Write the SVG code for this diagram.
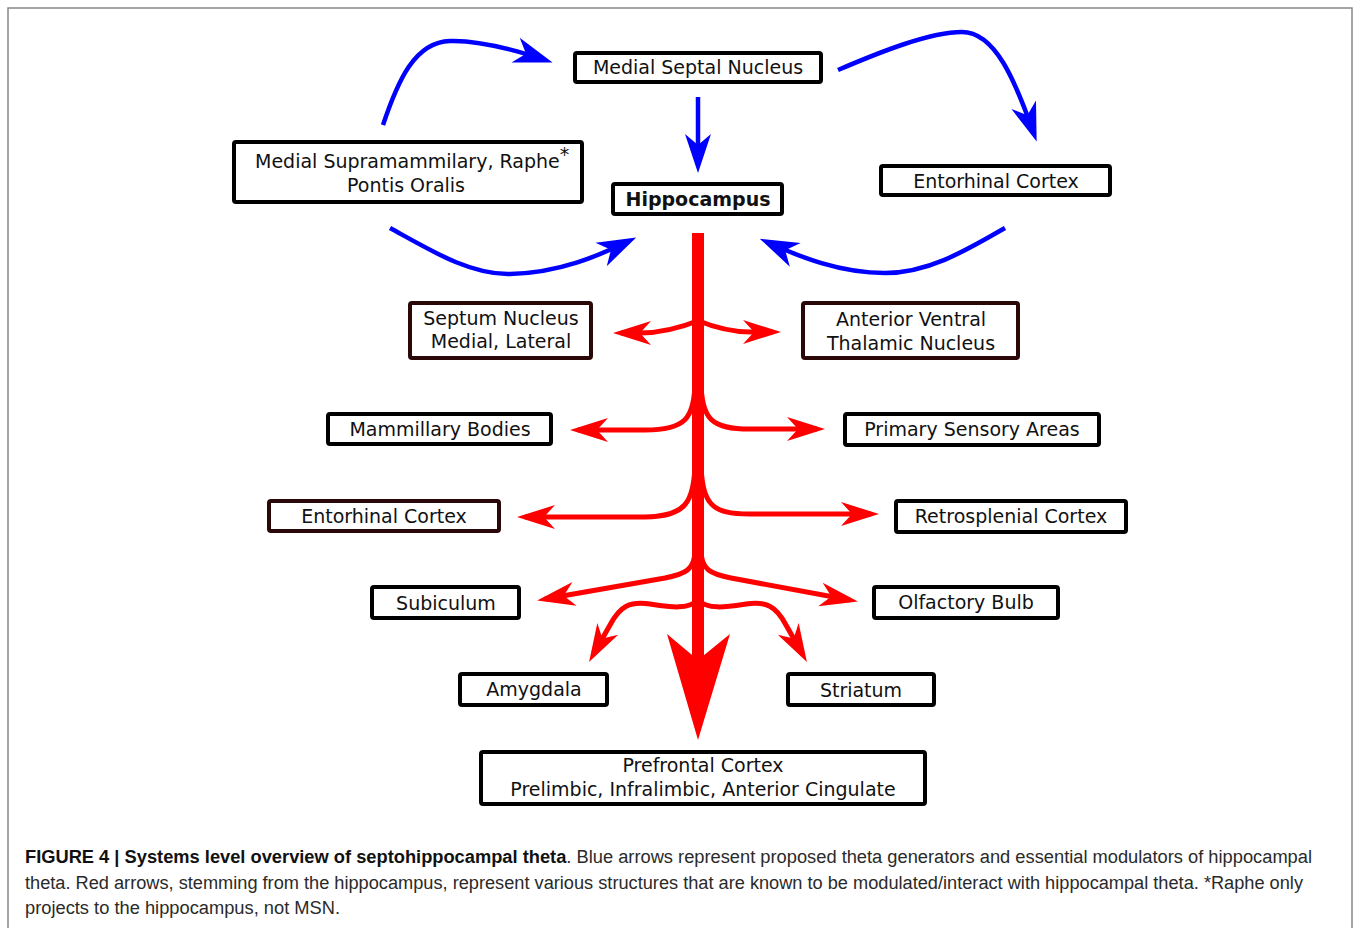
<svg xmlns="http://www.w3.org/2000/svg" width="1354" height="928" viewBox="0 0 1354 928">
<style>
.box{fill:#fff;stroke:#000;stroke-width:4}
.bbox{fill:#fff;stroke:#2a0808;stroke-width:4}
.lbl{font-family:"DejaVu Sans",Verdana,sans-serif;font-size:19px;fill:#111;text-anchor:middle}
.bold{font-weight:bold}
.blue{fill:none;stroke:#0000ff;stroke-width:4.5;marker-end:url(#ab)}
.red{fill:none;stroke:#ff0000;stroke-width:5;marker-end:url(#ar)}
.cap{font-family:"Liberation Sans",Arial,Helvetica,sans-serif;font-size:18px;fill:#2a2a2a}
</style>
<defs>
<marker id="ab" viewBox="-40 -15 50 30" refX="0" refY="0" markerWidth="50" markerHeight="30" markerUnits="userSpaceOnUse" orient="auto">
<path d="M8,0 L-31,-13 L-20,0 L-31,13 Z" fill="#0000ff"/>
</marker>
<marker id="ar" viewBox="-40 -15 50 30" refX="0" refY="0" markerWidth="50" markerHeight="30" markerUnits="userSpaceOnUse" orient="auto">
<path d="M8,0 L-30,-12 L-19,0 L-30,12 Z" fill="#ff0000"/>
</marker>
</defs>
<rect width="1354" height="928" fill="#fff"/>
<rect x="8" y="8" width="1344" height="960" fill="none" stroke="#888" stroke-width="1.5"/>

<g id="connectors">
<path class="blue" d="M383,125 C398,80 415,42 450,41 C480,40 515,50 545,60"/>
<path class="blue" d="M838,70 C880,52 930,32 962,32 C995,32 1015,80 1034,134"/>
<path class="blue" d="M698,97 L698,165"/>
<path class="blue" d="M390,228 C430,250 470,275 510,274 C560,273 600,255 629,241"/>
<path class="blue" d="M1005,228 C970,248 930,273 885,273 C840,273 800,257 767,242"/>

<path class="red" d="M700,320 C685,326 665,333 640,333 L621,333"/>
<path class="red" d="M696,320 C711,326 730,332 750,332 L773,332"/>
<path class="red" d="M695,380 C695,420 684,430 645,430 L578,430"/>
<path class="red" d="M701,380 C701,420 712,429 750,429 L817,429"/>
<path class="red" d="M695,460 C695,505 684,516 645,517 L525,517"/>
<path class="red" d="M701,460 C701,505 712,514 750,514 L871,514"/>
<path class="red" d="M695,550 C695,570 685,574 665,578 L545,599"/>
<path class="red" d="M701,550 C701,570 711,574 731,578 L850,600"/>
<path class="red" d="M698,600 C688,610 670,607 650,604 C630,601 620,606 610,625 L593,655"/>
<path class="red" d="M698,600 C708,610 726,607 746,604 C766,601 776,606 786,625 L803,655"/>
<rect x="692" y="233" width="12" height="430" fill="#ff0000"/>
<path d="M698,740 L730,634 L698,660 L667,634 Z" fill="#ff0000"/>
</g>

<g id="msn"><rect class="box" x="575" y="53" width="246" height="29" rx="2"/><text class="lbl" x="698" y="74">Medial Septal Nucleus</text></g>
<g id="msr"><rect class="box" x="234" y="142" width="348" height="60" rx="2"/><text class="lbl" x="255" y="168" style="text-anchor:start">Medial Supramammilary, Raphe<tspan font-size="19" dy="-7">*</tspan></text><text class="lbl" x="406" y="192">Pontis Oralis</text></g>
<g id="hippocampus"><rect class="box" x="613" y="184" width="169" height="30" rx="2"/><text class="lbl bold" x="698" y="206">Hippocampus</text></g>
<g id="ec-top"><rect class="box" x="881" y="166" width="229" height="29" rx="2"/><text class="lbl" x="996" y="188">Entorhinal Cortex</text></g>
<g id="septum"><rect class="bbox" x="410" y="303" width="181" height="55" rx="2"/><text class="lbl" x="501" y="325">Septum Nucleus</text><text class="lbl" x="501" y="348">Medial, Lateral</text></g>
<g id="avtn"><rect class="bbox" x="803" y="303" width="215" height="55" rx="2"/><text class="lbl" x="911" y="326">Anterior Ventral</text><text class="lbl" x="911" y="350">Thalamic Nucleus</text></g>
<g id="mammillary"><rect class="box" x="328" y="414" width="223" height="30" rx="2"/><text class="lbl" x="440" y="436">Mammillary Bodies</text></g>
<g id="psa"><rect class="box" x="845" y="414" width="254" height="31" rx="2"/><text class="lbl" x="972" y="436">Primary Sensory Areas</text></g>
<g id="ec-left"><rect class="bbox" x="269" y="501" width="230" height="30" rx="2"/><text class="lbl" x="384" y="523">Entorhinal Cortex</text></g>
<g id="retro"><rect class="box" x="896" y="501" width="230" height="31" rx="2"/><text class="lbl" x="1011" y="523">Retrosplenial Cortex</text></g>
<g id="subiculum"><rect class="box" x="372" y="587" width="147" height="31" rx="2"/><text class="lbl" x="446" y="610">Subiculum</text></g>
<g id="olfactory"><rect class="box" x="874" y="587" width="184" height="31" rx="2"/><text class="lbl" x="966" y="609">Olfactory Bulb</text></g>
<g id="amygdala"><rect class="box" x="460" y="674" width="147" height="31" rx="2"/><text class="lbl" x="534" y="696">Amygdala</text></g>
<g id="striatum"><rect class="box" x="788" y="674" width="146" height="31" rx="2"/><text class="lbl" x="861" y="697">Striatum</text></g>
<g id="prefrontal"><rect class="box" x="481" y="752" width="444" height="52" rx="2"/><text class="lbl" x="703" y="772">Prefrontal Cortex</text><text class="lbl" x="703" y="796">Prelimbic, Infralimbic, Anterior Cingulate</text></g>

<g id="caption">
<text class="cap" x="25" y="863" textLength="1287" lengthAdjust="spacingAndGlyphs"><tspan font-weight="bold" fill="#111">FIGURE 4 | Systems level overview of septohippocampal theta</tspan>. Blue arrows represent proposed theta generators and essential modulators of hippocampal</text>
<text class="cap" x="25" y="889" textLength="1278" lengthAdjust="spacingAndGlyphs">theta. Red arrows, stemming from the hippocampus, represent various structures that are known to be modulated/interact with hippocampal theta. *Raphe only</text>
<text class="cap" x="25" y="914" textLength="315" lengthAdjust="spacingAndGlyphs">projects to the hippocampus, not MSN.</text>
</g>
</svg>
